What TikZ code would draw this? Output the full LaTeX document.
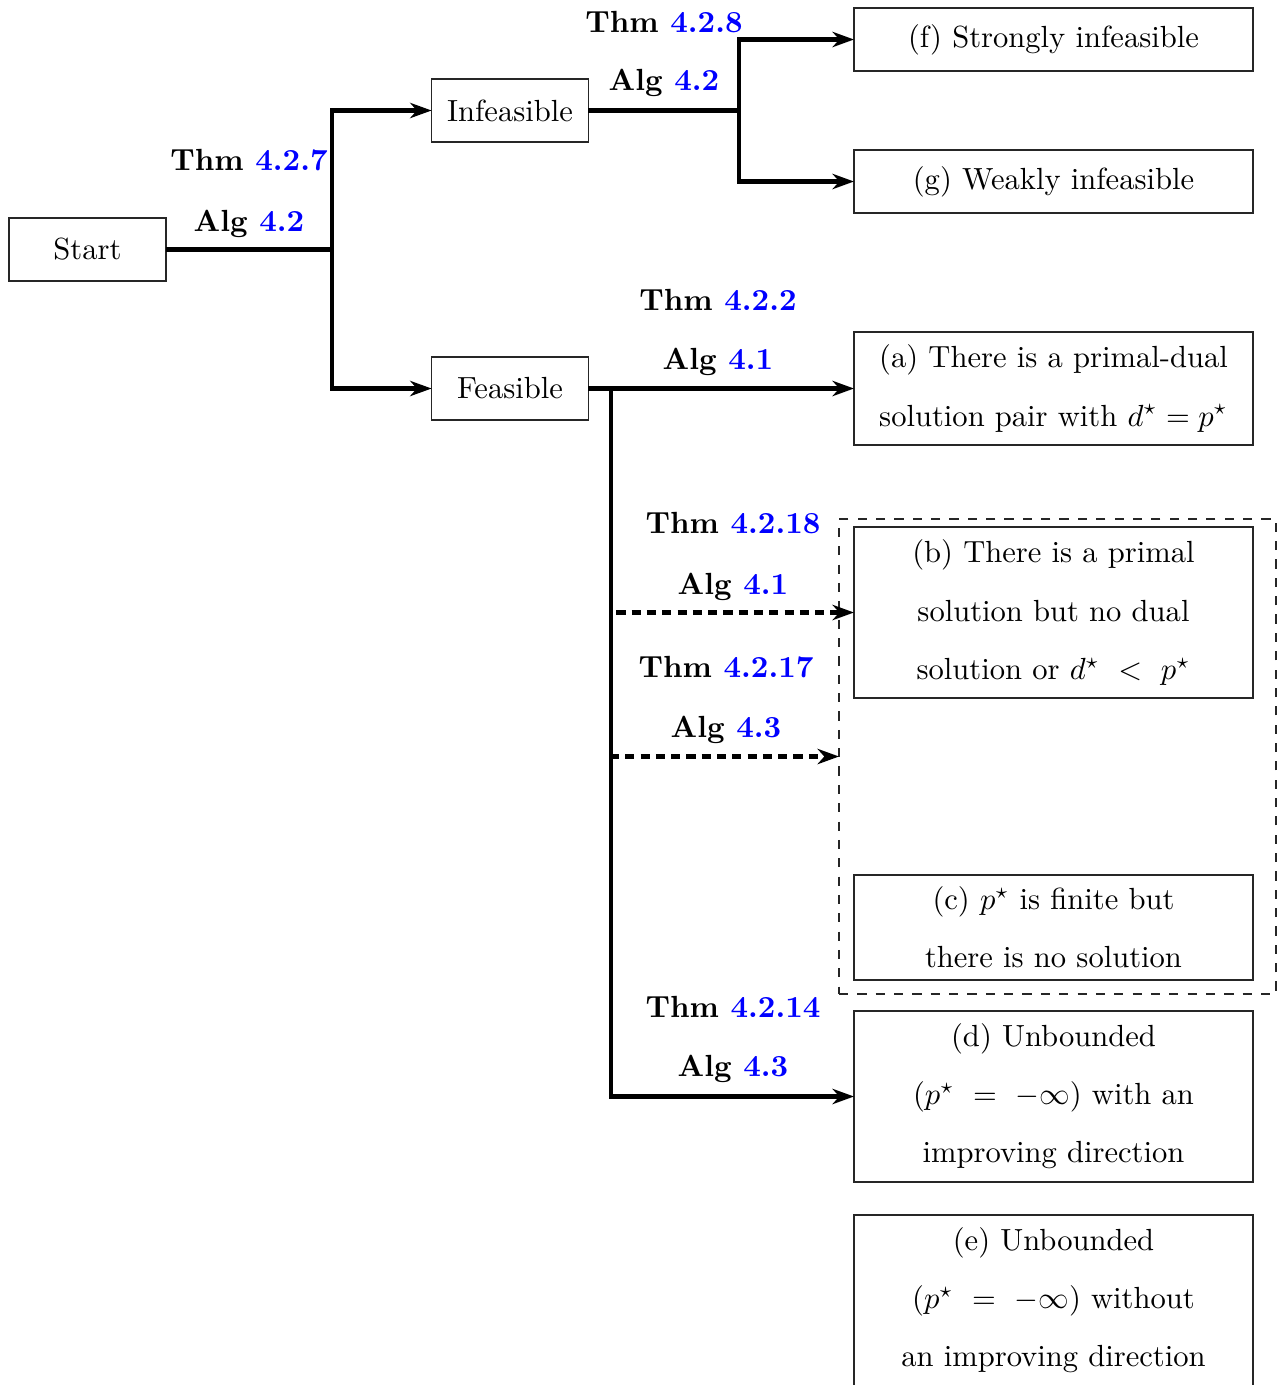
\documentclass[tikz,border=0pt]{standalone}
\usetikzlibrary{arrows.meta}
\begin{document}
\begin{tikzpicture}[x=0.327pt,y=-0.327pt,
  box/.style={draw=black!85,line width=0.4pt,inner sep=0pt,outer sep=0pt,align=center,font=\fontsize{10}{12}\selectfont},
  smallbox/.style={box,minimum width=51.3pt,minimum height=20.6pt},
  widebox/.style={box,minimum width=130.5pt},
  lbl/.style={anchor=base,inner sep=0pt,font=\fontsize{10}{12}\selectfont\bfseries},
  conn/.style={line width=1.6pt},
  arr/.style={conn,-{Stealth[length=7pt,width=5pt,inset=2.2pt]}},
  darr/.style={arr,dash pattern=on 3pt off 2pt}
]
\clip (0,0) rectangle (1282,1385);
\useasboundingbox (0,0) rectangle (1282,1385);

% nodes
\node[smallbox] (start) at (87.5,249.5) {Start};
\node[smallbox] (inf) at (510,110.5) {Infeasible};
\node[smallbox] (fea) at (510,388.5) {Feasible};

\node[widebox,minimum height=20.6pt] (f) at (1053.5,39.5) {(f) Strongly infeasible};
\node[widebox,minimum height=20.6pt] (g) at (1053.5,181.5) {(g) Weakly infeasible};
\node[widebox,minimum height=36.95pt] (a) at (1053.5,388.5) {(a) There is a primal-dual\\[7pt] solution pair with $d^\star = p^\star$};
\node[draw=black!85,dashed,line width=0.4pt,inner sep=0pt,outer sep=0pt,minimum width=142.9pt,minimum height=155.3pt] (grp) at (1057.5,756.5) {};
\node[widebox,minimum height=55.9pt] (b) at (1053.5,612.5) {(b) There is a primal\\[7pt] solution but no dual\\[7pt] solution or $d^\star\ <\ p^\star$};
\node[widebox,minimum height=34.3pt] (c) at (1053.5,927.5) {(c) $p^\star$ is finite but\\[7pt] there is no solution};
\node[widebox,minimum height=55.9pt] (d) at (1053.5,1096.5) {(d) Unbounded\\[7pt] $(p^\star\ =\ -\infty)$ with an\\[7pt] improving direction};
\node[widebox,minimum height=55.9pt] (e) at (1053.5,1300.5) {(e) Unbounded\\[7pt] $(p^\star\ =\ -\infty)$ without\\[7pt] an improving direction};

% junctions
\coordinate (j1) at (332,249.5);
\coordinate (j2) at (739,110.5);
\coordinate (j3) at (611,388.5);

% connectors
\draw[conn] (start.east) -- (j1);
\draw[arr] (j1) |- (inf.west);
\draw[arr] (j1) |- (fea.west);
\draw[conn] (inf.east) -- (j2);
\draw[arr] (j2) |- (f.west);
\draw[arr] (j2) |- (g.west);
\draw[arr] (fea.east) -- (a.west);
\draw[arr] (j3) |- (d.west);
\draw[darr] (j3) |- (b.west);
\draw[darr] (j3) |- (grp.west);

% labels
\node[lbl] (t1) at (249,170) {Thm \textcolor{blue}{4.2.7}};
\node[lbl] (a1) at (249,231) {Alg \textcolor{blue}{4.2}};
\node[lbl] (t2) at (664,32) {Thm \textcolor{blue}{4.2.8}};
\node[lbl] (a2) at (664,90) {Alg \textcolor{blue}{4.2}};
\node[lbl] (t3) at (718,310) {Thm \textcolor{blue}{4.2.2}};
\node[lbl] (a3) at (718,369) {Alg \textcolor{blue}{4.1}};
\node[lbl] (t4) at (733,533) {Thm \textcolor{blue}{4.2.18}};
\node[lbl] (a4) at (733,594) {Alg \textcolor{blue}{4.1}};
\node[lbl] (t5) at (726,677) {Thm \textcolor{blue}{4.2.17}};
\node[lbl] (a5) at (726,737) {Alg \textcolor{blue}{4.3}};
\node[lbl] (t6) at (733,1017) {Thm \textcolor{blue}{4.2.14}};
\node[lbl] (a6) at (733,1076) {Alg \textcolor{blue}{4.3}};
\end{tikzpicture}
\end{document}
